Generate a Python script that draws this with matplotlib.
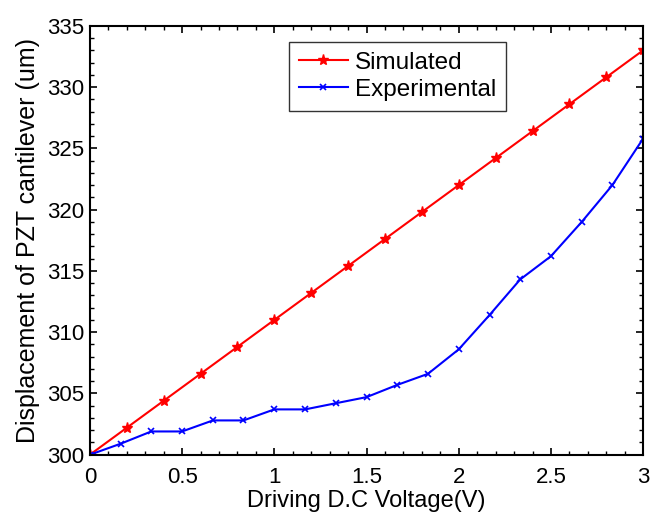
import matplotlib.pyplot as plt
from matplotlib.ticker import MultipleLocator

plt.rcParams['font.family'] = ['Liberation Sans', 'DejaVu Sans']

# data
sim_v = [0.0, 0.2, 0.4, 0.6, 0.8, 1.0, 1.2, 1.4, 1.6, 1.8, 2.0, 2.2, 2.4, 2.6, 2.8, 3.0]
sim_disp = [300.0, 302.2, 304.4, 306.6, 308.8, 311.0, 313.2, 315.4, 317.6, 319.8,
            322.0, 324.2, 326.4, 328.6, 330.8, 333.0]

exp_v = [0.0, 0.167, 0.333, 0.5, 0.667, 0.833, 1.0, 1.167, 1.333, 1.5, 1.667, 1.833,
         2.0, 2.167, 2.333, 2.5, 2.667, 2.833, 3.0]
exp_disp = [300.0, 300.9, 301.9, 301.9, 302.8, 302.8, 303.7, 303.7, 304.2, 304.7, 305.7,
            306.6, 308.6, 311.4, 314.3, 316.2, 319.0, 322.0, 325.8]

xticks = [0, 0.5, 1, 1.5, 2, 2.5, 3]
xticklabels = ['0', '0.5', '1', '1.5', '2', '2.5', '3']

fig = plt.figure(figsize=(6.51, 5.15), dpi=100)
ax = fig.add_axes([0.138, 0.117, 0.850, 0.833])

ax.plot(sim_v, sim_disp, color='#ff0000', lw=1.5, marker='*', ms=8, label='Simulated')
ax.plot(exp_v, exp_disp, color='#0000ff', lw=1.5, marker='x', ms=5, mew=1.2, label='Experimental')

ax.set_xlim(0, 3)
ax.set_ylim(300, 335)
ax.set_xticks(xticks)
ax.set_xticklabels(xticklabels)
ax.xaxis.set_minor_locator(MultipleLocator(0.1))
ax.yaxis.set_major_locator(MultipleLocator(5))
ax.yaxis.set_minor_locator(MultipleLocator(1))
ax.tick_params(which='both', direction='in', top=True, right=True, labelsize=16)
ax.tick_params(which='major', length=5, width=1.2)
ax.tick_params(which='minor', length=3, width=1)
ax.tick_params(axis='x', which='major', pad=9)
ax.tick_params(axis='y', which='major', pad=4)
for s in ax.spines.values():
    s.set_linewidth(1.5)

ax.set_xlabel('Driving D.C Voltage(V)', fontsize=17, labelpad=1)
ax.set_ylabel('Displacement of PZT cantilever (um)', fontsize=18, labelpad=5)

leg = ax.legend(loc='upper center', bbox_to_anchor=(0.556, 0.99), fontsize=17.5,
                fancybox=False, edgecolor='black', handlelength=2.0,
                handletextpad=0.3, borderpad=0.4, labelspacing=0.2)
leg.get_frame().set_linewidth(1.0)

fig.savefig('out.png', dpi=100)
